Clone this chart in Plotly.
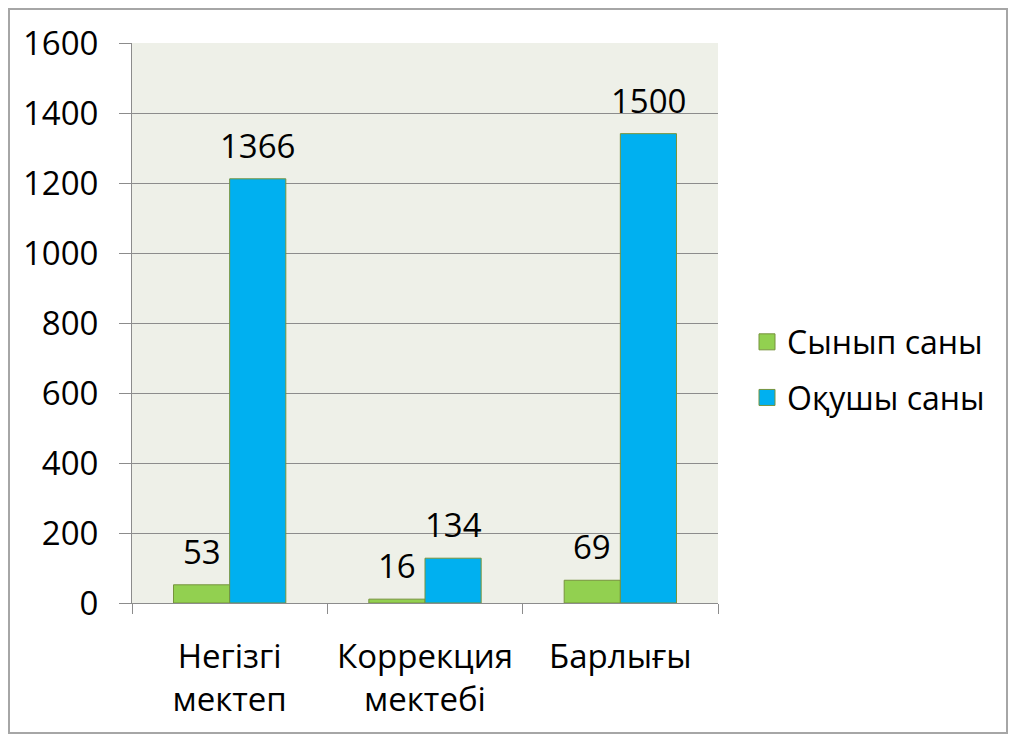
import plotly.graph_objects as go

categories = ["Негізгі<br>мектеп", "Коррекция<br>мектебі", "Барлығы"]
series_names = ["Сынып саны", "Оқушы саны"]
# bar heights as drawn in the picture
class_bar_values = [52, 11, 65]
student_bar_values = [1212, 128, 1341]
# data labels as printed in the picture
class_labels = ["53", "16", "69"]
student_labels = ["1366", "134", "1500"]
y_tick_values = [0, 200, 400, 600, 800, 1000, 1200, 1400, 1600]

FONT = "Open Sans"
FS = 33
edge = "#77933C"
colors = ["#92D050", "#00B0F0"]

# page body has an 8px offset, so margins are reduced by 8
L, T, PW, PH = 124, 35, 586, 560
W, H = 1018, 742

fig = go.Figure()
for i, (vals, labs) in enumerate([(class_bar_values, class_labels),
                                   (student_bar_values, student_labels)]):
    fig.add_trace(go.Bar(
        name=series_names[i], x=categories, y=vals, showlegend=False,
        marker=dict(color=colors[i], line=dict(color=edge, width=1)),
    ))
    # legend entry with a larger square symbol
    fig.add_trace(go.Scatter(
        name=series_names[i], x=[None], y=[None], mode="markers",
        legendgroup=series_names[i],
        marker=dict(symbol="square", size=16, color=colors[i],
                    line=dict(color=edge, width=1)),
    ))
    for c, v, t in zip(categories, vals, labs):
        fig.add_annotation(
            x=c, y=v, text=t, showarrow=False, xref="x", yref="y",
            xanchor="center", yanchor="bottom",
            xshift=-28 if i == 0 else 28, yshift=9,
            font=dict(family=FONT, size=FS, color="black"),
        )

fig.update_layout(
    width=W, height=H,
    margin=dict(l=L, r=W - L - PW, t=T, b=H - T - PH),
    paper_bgcolor="white",
    plot_bgcolor="#EEF0E8",
    barmode="group",
    bargap=0.425, bargroupgap=0,
    font=dict(family=FONT, size=FS, color="black"),
    legend=dict(
        x=1.0495, y=0.416, xanchor="left", yanchor="middle",
        font=dict(family=FONT, size=32, color="black"),
        bgcolor="rgba(0,0,0,0)", tracegroupgap=11, itemwidth=30,
    ),
    showlegend=True,
    shapes=[dict(type="rect", xref="paper", yref="paper",
                 x0=(1 - L) / PW, x1=(999 - L) / PW,
                 y0=-(725 - (T + PH)) / PH, y1=1 + (T - 1) / PH,
                 line=dict(color="#A6A6A6", width=2), fillcolor="rgba(0,0,0,0)",
                 layer="below")],
)
fig.update_yaxes(
    range=[0, 1600], tickvals=y_tick_values,
    showgrid=True, gridcolor="#8C8C8C", gridwidth=1,
    showline=True, linecolor="#8C8C8C", linewidth=1,
    ticks="outside", ticklen=12, tickcolor="#8C8C8C",
    ticklabelstandoff=14, zeroline=False,
    tickfont=dict(family=FONT, size=FS, color="black"),
)
fig.update_xaxes(
    showline=True, linecolor="#8C8C8C", linewidth=1,
    ticks="outside", ticklen=10, tickcolor="#8C8C8C", tickson="boundaries",
    ticklabelstandoff=24,
    tickfont=dict(family=FONT, size=FS, color="black"),
)

fig.write_html("out.html")
